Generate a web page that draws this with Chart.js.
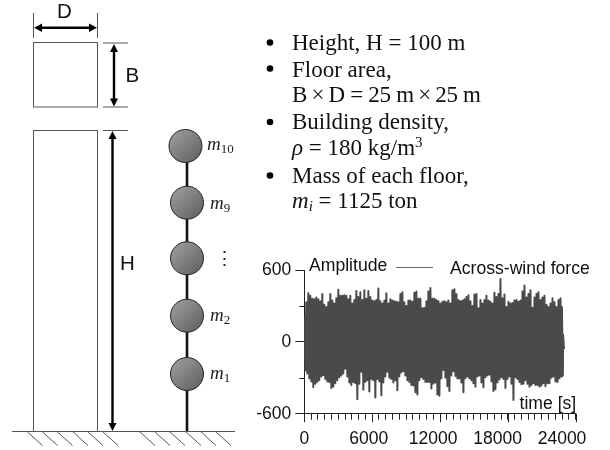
<!DOCTYPE html>
<html>
<head>
<meta charset="utf-8">
<style>
    html, body { margin: 0; padding: 0; background: #fff; }
    #stage { position: relative; width: 610px; height: 450px; overflow: hidden; }
    #forceChart { position: absolute; left: 0; top: 0; }
    #sketch { position: absolute; left: 0; top: 0; pointer-events: none; }
    .sans { font-family: "Liberation Sans", Arial, sans-serif; fill: #111; }
    .serif { font-family: "Liberation Serif", "Times New Roman", serif; font-size: 23px; fill: #111; }
    .mass { font-family: "Liberation Serif", serif; font-size: 19px; font-style: italic; fill: #222; }
    .mass tspan { font-size: 13px; font-style: normal; }
</style>
</head>
<body>
<div id="stage">
    <canvas id="forceChart" width="610" height="450"></canvas>
    <svg id="sketch" width="610" height="450" viewBox="0 0 610 450">
        <defs>
            <linearGradient id="ball" x1="0" y1="0" x2="1" y2="1">
                <stop offset="0" stop-color="#a2a2a2"/>
                <stop offset="1" stop-color="#5c5c5c"/>
            </linearGradient>
        </defs>

        <!-- plan view -->
        <g fill="none" stroke="#555" stroke-width="1">
            <rect x="33.5" y="42.5" width="64" height="64.5"/>
            <rect x="33.5" y="130.5" width="64" height="301"/>
            <path d="M33.5 13V38M97.5 13V38M103 43H128M103 107H128M103 130.5H128"/>
            <path d="M12 431.5H235"/>
            <path d="M27.5 432L42.5 445.5M42.5 432L57.5 445.5M57.5 432L72.5 445.5M73 432L88 445.5M88 432L103 445.5M103 432L118 445.5"/>
            <path d="M140 432L155 445.5M155 432L170 445.5M170 432L185 445.5M186 432L201 445.5M201 432L216 445.5M216 432L231 445.5"/>
        </g>

        <!-- dimension arrows -->
        <g stroke="#000" stroke-width="2.4" fill="#000">
            <path d="M40 27.7H91M114 50V100M112.5 137V424" fill="none"/>
            <polygon stroke="none" points="34,27.7 42,23.5 42,32"/>
            <polygon stroke="none" points="97,27.7 89,23.5 89,32"/>
            <polygon stroke="none" points="114,44 110,52 118,52"/>
            <polygon stroke="none" points="114,106.5 110,98.5 118,98.5"/>
            <polygon stroke="none" points="112.5,131 108.5,139 116.5,139"/>
            <polygon stroke="none" points="112.5,431 108.5,423 116.5,423"/>
        </g>
        <text class="sans" x="64.5" y="18" font-size="20.5" text-anchor="middle">D</text>
        <text class="sans" x="125.5" y="82" font-size="20.5">B</text>
        <text class="sans" x="120" y="270" font-size="20.5">H</text>

        <!-- lumped mass column -->
        <path d="M187 160V431" stroke="#111" stroke-width="2.6" fill="none"/>
        <g fill="url(#ball)" stroke="#222" stroke-width="1">
            <circle cx="185.5" cy="146" r="16.5"/>
            <circle cx="187" cy="202.7" r="16.5"/>
            <circle cx="187" cy="258.3" r="16.5"/>
            <circle cx="187" cy="315.7" r="16.5"/>
            <circle cx="187" cy="374" r="16.5"/>
        </g>
        <text class="mass" x="207" y="150">m<tspan dy="3">10</tspan></text>
        <text class="mass" x="210" y="209">m<tspan dy="3">9</tspan></text>
        <text class="mass" x="215" y="265" style="font-style:normal">⋮</text>
        <text class="mass" x="210" y="321">m<tspan dy="3">2</tspan></text>
        <text class="mass" x="210" y="379">m<tspan dy="3">1</tspan></text>

        <!-- building properties -->
        <g fill="#000">
            <circle cx="270" cy="42.5" r="3.3"/>
            <circle cx="270" cy="68.5" r="3.3"/>
            <circle cx="270" cy="122" r="3.3"/>
            <circle cx="270" cy="175.5" r="3.3"/>
        </g>
        <text class="serif" x="292" y="49.5">Height, H = 100 m</text>
        <text class="serif" x="292" y="76.5">Floor area,</text>
        <text class="serif" x="292" y="102" textLength="189">B&#8201;×&#8201;D = 25 m&#8201;×&#8201;25 m</text>
        <text class="serif" x="292" y="129">Building density,</text>
        <text class="serif" x="292" y="155"><tspan font-style="italic">ρ</tspan> = 180 kg/m<tspan dy="-8" font-size="15">3</tspan></text>
        <text class="serif" x="292" y="183">Mass of each floor,</text>
        <text class="serif" x="292" y="208"><tspan font-style="italic">m</tspan><tspan font-style="italic" dy="3" font-size="15">i</tspan><tspan dy="-3"> = 1125 ton</tspan></text>

        <!-- chart captions -->
        <text class="sans" x="309" y="271" font-size="17.6">Amplitude</text>
        <path d="M396 267.5H433" stroke="#666" stroke-width="1"/>
        <text class="sans" x="450" y="273.5" font-size="17.6">Across-wind force</text>
        <text class="sans" x="519.5" y="409" font-size="17.6">time [s]</text>
    </svg>
</div>
<script src="https://cdn.jsdelivr.net/npm/chart.js@4/dist/chart.umd.min.js"></script>
<script>
// ==================== Across-wind force history ====================
const peakTimes = [
    0, 177, 354, 531, 708, 885, 1062, 1239, 1416, 1593, 1770, 1947, 2124, 2301, 2478, 2655, 2832, 3009, 3186, 3363,
    3540, 3717, 3894, 4071, 4248, 4425, 4602, 4779, 4956, 5133, 5310, 5487, 5664, 5841, 6018, 6195, 6372, 6549, 6726, 6903,
    7080, 7257, 7434, 7611, 7788, 7965, 8142, 8319, 8496, 8673, 8850, 9027, 9204, 9381, 9558, 9735, 9912, 10089, 10266, 10443,
    10620, 10797, 10974, 11151, 11328, 11505, 11682, 11859, 12036, 12213, 12390, 12567, 12744, 12921, 13098, 13275, 13452, 13629, 13806, 13983,
    14160, 14337, 14514, 14691, 14868, 15045, 15222, 15399, 15576, 15753, 15930, 16107, 16284, 16461, 16638, 16815, 16992, 17169, 17346, 17523,
    17700, 17877, 18054, 18231, 18408, 18585, 18762, 18939, 19116, 19293, 19470, 19647, 19824, 20001, 20178, 20355, 20532, 20709, 20886, 21063,
    21240, 21417, 21594, 21771, 21948, 22125, 22302, 22479, 22656, 22780, 22880
];

const upperPeaks = [
    210, 330, 405, 385, 360, 355, 370, 355, 340, 400, 310, 290, 330, 400, 345, 320, 365, 435, 385, 385,
    390, 385, 355, 385, 320, 350, 425, 375, 415, 350, 430, 360, 425, 375, 345, 340, 350, 445, 340, 320,
    345, 405, 320, 355, 345, 340,
    335, 330, 400, 415, 330, 300, 345, 345, 335, 410, 420, 360, 360, 280, 285, 340, 420, 450, 360, 360,
    350, 340, 320, 335, 340, 330, 345, 320, 430, 440, 400, 350, 340, 345, 355, 375, 390, 340, 300, 395,
    400, 280, 350, 320, 350, 385, 345,
    335, 320, 410, 375, 400, 525, 365, 395, 290, 335, 320, 325, 345, 350, 335, 345, 420, 470, 370, 400,
    430, 285, 370, 400, 415, 350, 370, 385, 310, 290, 320, 365, 330, 290, 350, 365, 290, 60
];

const lowerPeaks = [
    -240, -265, -305, -330, -380, -350, -335, -320, -290, -278, -310, -330, -335, -385, -375, -345, -320, -295, -280, -265,
    -225, -290, -340, -360, -335, -345, -480, -350, -250, -400, -335, -320, -415, -310, -320, -465, -310, -330, -445, -340,
    -290, -250, -300, -310, -340, -320,
    -405, -290, -255, -245, -280, -320, -335, -360, -365, -420, -440, -320, -295, -310, -335, -335, -335, -390, -350, -340,
    -440, -450, -305, -235, -300, -370, -410, -280, -245, -285, -305, -305, -340, -420, -305, -290, -305, -320, -345, -375,
    -290, -280, -340, -380, -295, -280, -275,
    -330, -410, -395, -340, -315, -295, -310, -385, -310, -290, -350, -485, -295, -310, -335, -355, -350, -320, -350, -375,
    -360, -345, -360, -360, -375, -365, -345, -370, -345, -345, -300, -290, -330, -335, -305, -290, -280, -60
];

const amplitudeTicks = [-600, 0, 600];
const shortAmplitudeTicks = [-300, 300];
const timeLabels = [0, 6000, 12000, 18000, 24000];
const longTimeTicks = [0, 6000, 12000, 18000, 24000];

// up and down swings alternate, half a step apart
const forcePoints = peakTimes.flatMap((t, i) => [
    { x: t, y: upperPeaks[i] },
    { x: t + 88, y: lowerPeaks[i] }
]);

// Chart.js has one tick length per axis, the odd ones go on top
const extraTicks = {
    id: 'extraTicks',
    afterDraw(chart) {
        const { ctx, scales } = chart;
        const left = scales.y.left + scales.y.width;
        const bottom = scales.x.top;
        ctx.save();
        ctx.strokeStyle = '#222';
        ctx.lineWidth = 1;
        ctx.beginPath();
        shortAmplitudeTicks.forEach(v => {
            const py = Math.round(scales.y.getPixelForValue(v)) + 0.5;
            ctx.moveTo(left - 5, py);
            ctx.lineTo(left, py);
        });
        longTimeTicks.forEach(v => {
            const px = Math.round(scales.x.getPixelForValue(v)) + 0.5;
            ctx.moveTo(px, bottom);
            ctx.lineTo(px, bottom + 8.5);
        });
        ctx.stroke();
        ctx.restore();
    }
};

const tickFont = { family: '"Liberation Sans", Arial, sans-serif', size: 17.5 };

new Chart(document.getElementById('forceChart'), {
    type: 'line',
    plugins: [extraTicks],
    data: {
        datasets: [{
            label: 'Across-wind force',
            data: forcePoints,
            borderColor: '#4a4a4a',
            borderWidth: 2,
            borderJoinStyle: 'round',
            pointRadius: 0,
            tension: 0
        }]
    },
    options: {
        responsive: false,
        animation: false,
        layout: { padding: { left: 244.3, right: 34.3, top: 270, bottom: 4.3 } },
        plugins: { legend: { display: false }, tooltip: { enabled: false } },
        scales: {
            x: {
                type: 'linear',
                min: 0,
                max: 24000,
                afterFit: s => { s.height = 6; },
                border: { color: '#222' },
                grid: { drawOnChartArea: false, tickLength: 6, color: '#222' },
                ticks: { stepSize: 600, display: false, autoSkip: false }
            },
            // the labels in the source sit tighter than the ticks, so they get their own axis
            timeLabelAxis: {
                type: 'linear',
                position: 'bottom',
                axis: 'x',
                min: 0,
                max: 25274,
                afterFit: s => { s.height = 26; },
                afterBuildTicks: s => { s.ticks = timeLabels.map(value => ({ value })); },
                border: { display: false },
                grid: { drawOnChartArea: false, drawTicks: false },
                ticks: {
                    autoSkip: false,
                    maxRotation: 0,
                    padding: 9,
                    color: '#111',
                    font: tickFont,
                    callback: v => String(v)
                }
            },
            y: {
                type: 'linear',
                min: -600,
                max: 600,
                afterFit: s => { s.width = 60; },
                border: { color: '#222' },
                grid: { drawOnChartArea: false, tickLength: 9, color: '#222' },
                ticks: {
                    stepSize: 600,
                    padding: 4,
                    color: '#111',
                    font: tickFont,
                    callback: v => (amplitudeTicks.includes(v) ? String(v) : '')
                }
            }
        }
    }
});
</script>
</body>
</html>
